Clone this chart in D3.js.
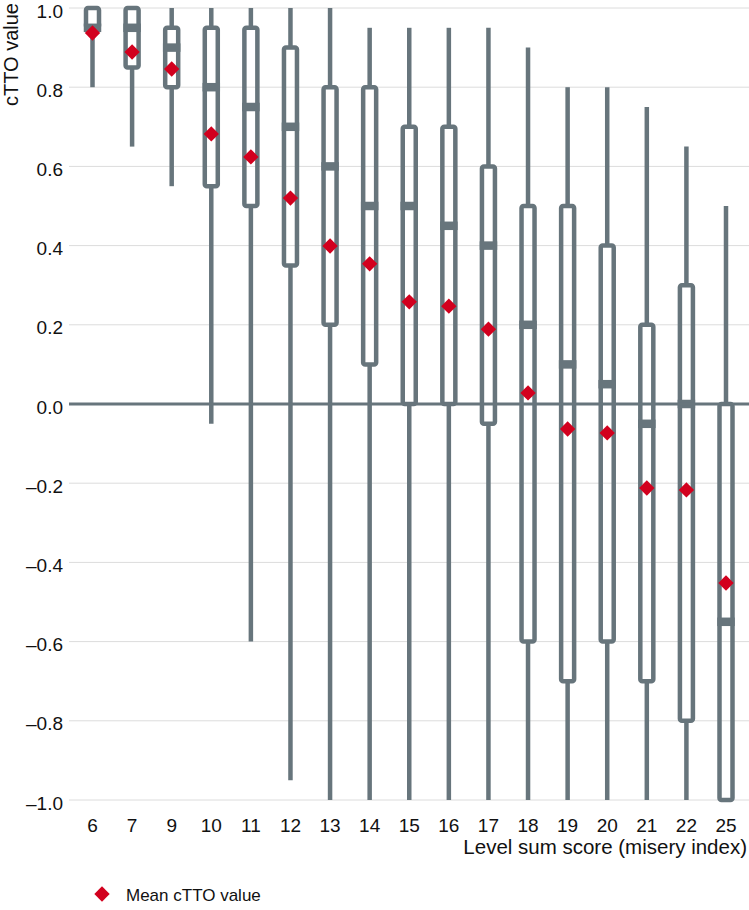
<!DOCTYPE html>
<html><head><meta charset="utf-8">
<script src="https://cdn.jsdelivr.net/npm/d3@7"></script>
<style>html,body{margin:0;padding:0;background:#fff;}svg{display:block;font-family:"Liberation Sans",Arial,Helvetica,sans-serif;}</style>
</head><body>
<script>
const categories = ["6","7","9","10","11","12","13","14","15","16","17","18","19","20","21","22","25"];
const whiskerLow  = [0.80,0.65,0.55,-0.05,-0.60,-0.95,-1.0,-1.0,-1.0,-1.0,-1.0,-1.0,-1.0,-1.0,-1.0,-1.0,-1.0];
const q1          = [0.95,0.85,0.80,0.55,0.50,0.35,0.20,0.10,0.00,0.00,-0.05,-0.60,-0.70,-0.60,-0.70,-0.80,-1.0];
const medians     = [0.95,0.95,0.90,0.80,0.75,0.70,0.60,0.50,0.50,0.45,0.40,0.20,0.10,0.05,-0.05,0.00,-0.55];
const q3          = [1.0,1.0,0.95,0.95,0.95,0.90,0.80,0.80,0.70,0.70,0.60,0.50,0.50,0.40,0.20,0.30,0.00];
const whiskerHigh = [1.0,1.0,1.0,1.0,1.0,1.0,1.0,0.95,0.95,0.95,0.95,0.90,0.80,0.80,0.75,0.65,0.50];
const means       = [0.937,0.889,0.846,0.682,0.624,0.520,0.399,0.354,0.258,0.247,0.189,0.028,-0.063,-0.073,-0.212,-0.217,-0.452];
const yTicks = [1.0,0.8,0.6,0.4,0.2,0.0,-0.2,-0.4,-0.6,-0.8,-1.0];

const W = 749, H = 910;
const GRAY = "#67757c", RED = "#d2001e";
const svg = d3.select("body").append("svg").attr("width", W).attr("height", H);

const y = d3.scaleLinear().domain([-1, 1]).range([800, 8]);
const x = d3.scalePoint().domain(categories).range([92.5, 726]);

const fmt = v => (v < 0 ? "\u2013" : "") + d3.format(".1f")(Math.abs(v));

// gridlines
svg.append("g").selectAll("line").data(yTicks.filter(v => v !== 0)).join("line")
  .attr("x1", 69).attr("x2", W).attr("y1", d => y(d)).attr("y2", d => y(d))
  .attr("stroke", "#dcdcdc").attr("stroke-width", 1);

// y tick labels
svg.append("g").selectAll("text").data(yTicks).join("text")
  .attr("x", 63).attr("y", d => y(d)).attr("dy", "0.5em")
  .attr("text-anchor", "end").attr("font-size", 19).attr("fill", "#111")
  .text(fmt);

// y title
svg.append("text").attr("transform", "translate(18,3) rotate(-90)")
  .attr("text-anchor", "end").attr("font-size", 20).attr("fill", "#111").text("cTTO value");

const data = categories.map((c, i) => ({c, lo: whiskerLow[i], q1: q1[i], med: medians[i], q3: q3[i], hi: whiskerHigh[i], mean: means[i]}));
const bw = 13, sw = 4.5;
const g = svg.append("g");
// whiskers
g.selectAll(".wl").data(data).join("line")
  .attr("x1", d => x(d.c)).attr("x2", d => x(d.c))
  .attr("y1", d => y(d.lo)).attr("y2", d => y(d.q1))
  .attr("stroke", GRAY).attr("stroke-width", sw);
g.selectAll(".wh").data(data).join("line")
  .attr("x1", d => x(d.c)).attr("x2", d => x(d.c))
  .attr("y1", d => y(d.hi)).attr("y2", d => y(d.q3))
  .attr("stroke", GRAY).attr("stroke-width", sw);
// boxes
g.selectAll(".box").data(data).join("rect")
  .attr("x", d => x(d.c) - bw/2).attr("width", bw)
  .attr("y", d => y(d.q3)).attr("height", d => y(d.q1) - y(d.q3))
  .attr("rx", 2).attr("fill", "none").attr("stroke", GRAY).attr("stroke-width", sw)
  .attr("stroke-linejoin", "round");
// medians
g.selectAll(".med").data(data).join("rect")
  .attr("x", d => x(d.c) - bw/2 - sw/2).attr("width", bw + sw)
  .attr("y", d => y(d.med) - 4.25).attr("height", 8.5)
  .attr("fill", GRAY);

// zero line
svg.append("line").attr("x1", 69).attr("x2", W).attr("y1", y(0)).attr("y2", y(0))
  .attr("stroke", GRAY).attr("stroke-width", 3.2);

// means
const diamond = d3.symbol().type(d3.symbolSquare).size(118);
g.selectAll(".mean").data(data).join("path")
  .attr("d", diamond)
  .attr("transform", d => `translate(${x(d.c)},${y(d.mean)}) rotate(45)`)
  .attr("fill", RED);

// x tick labels
svg.append("g").selectAll("text").data(categories).join("text")
  .attr("x", d => x(d)).attr("y", 832).attr("text-anchor", "middle")
  .attr("font-size", 19).attr("fill", "#111").text(d => d);

svg.append("text").attr("x", 747).attr("y", 854).attr("text-anchor", "end")
  .attr("font-size", 20.5).attr("fill", "#111").text("Level sum score (misery index)");

// legend
svg.append("path").attr("d", diamond).attr("transform", "translate(102,894) rotate(45)").attr("fill", RED);
svg.append("text").attr("x", 126).attr("y", 901).attr("font-size", 17).attr("fill", "#111").text("Mean cTTO value");
</script>
</body></html>
